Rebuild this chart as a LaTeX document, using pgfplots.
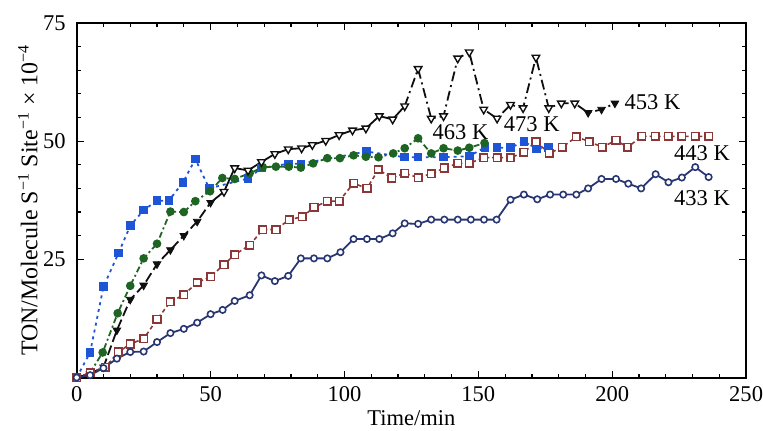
\documentclass[border=0pt]{standalone}
\usepackage{fontspec}
\setmainfont{Liberation Serif}
\usepackage{pgfplots}
\pgfplotsset{compat=1.18}

\definecolor{c473}{RGB}{30,85,215}
\definecolor{c463}{RGB}{30,100,35}
\definecolor{c453}{RGB}{15,15,15}
\definecolor{c443}{RGB}{140,55,55}
\definecolor{c433}{RGB}{40,55,115}

\begin{document}
\begin{tikzpicture}
\begin{axis}[
  at={(0,0)}, anchor=south west,
  scale only axis, width=336pt, height=178pt,
  xmin=0, xmax=250, ymin=0, ymax=75,
  xtick={0,50,...,250}, ytick={25,50,75},
  minor x tick num=4, minor y tick num=4,
  tick align=inside, major tick length=3.5pt, minor tick length=2pt,
  axis line style={line width=1pt},
  every tick/.style={black, line width=0.6pt},
  tick label style={font=\fontsize{11.3}{13}\selectfont},
  /pgf/number format/assume math mode=true,
  yticklabel style={xshift=-2pt},
  xticklabel style={yshift=-1pt, inner xsep=0pt},
  xlabel={Time/min},
  ylabel={TON/Molecule S\textsuperscript{−1} Site\textsuperscript{−1} × 10\textsuperscript{−4}},
  every axis x label/.style={at={(axis description cs:0.5,-0.115)}, anchor=center, inner sep=0pt, font=\fontsize{11.3}{13}\selectfont},
  every axis y label/.style={at={(axis description cs:-0.073,0.5)}, anchor=center, rotate=90, inner sep=1pt, font=\fontsize{12}{14}\selectfont},
  clip=false,
]
% 473 K
\addplot[c473, line width=0.9pt, dash pattern=on 1.5pt off 2pt, mark=square*, mark size=1.7pt, mark options={solid, fill=c473, draw=c473}] coordinates {
(0,0) (5,5.3) (10,19.2) (15.6,26.3) (20,32.1) (25,35.4) (30,37.4) (34.4,37.4) (39.7,41.3) (44.3,46.2) (49.5,40) (64,42.1) (69,44.3) (79,45.2) (83.7,45.2) (108.2,47.8) (122.5,46.6) (127.5,46.6) (137,46.6) (146.6,46.8) (152.5,48.7) (157,48.6) (162,48.6) (167,49.9) (171.8,48.4) (176.3,48.6)
};
% 463 K
\addplot[c463, line width=0.9pt, dash pattern=on 3pt off 1.5pt on 1pt off 1.5pt, mark=*, mark size=1.7pt, mark options={solid, fill=c463, draw=c463}] coordinates {
(0,0) (5,1) (9.7,5.3) (15.3,13.6) (20,19.4) (25,25.2) (30,28.3) (35,35.1) (40,35) (44.3,37.3) (49.8,39.4) (54.4,42.2) (59,42) (64.6,43.2) (69.5,44.5) (74.4,44.6) (79.2,44.6) (83.7,44.4) (88.3,45.3) (93.6,46.4) (98.3,46.4) (103.4,47) (108,46.7) (112.7,46.6) (118.2,47.4) (122.5,48.5) (127.5,50.6) (132.4,47.4) (137,48.5) (142.3,48) (146.6,48.6) (152.3,49.6)
};
% 453 K lines
\addplot[c453, line width=0.9pt, dash pattern=on 5pt off 2pt] coordinates {
(0,0) (5,0.8) (10,2.2) (15,10) (20,16.5) (25,19.5) (30,24) (35,27) (40,30) (45,33) (50,37)
};
\addplot[c453, line width=0.9pt] coordinates {
(50,37) (55,39.3) (59,44.3) (64,43.8) (69,45.6) (74,47.3) (79,48.3) (84,48.5) (88,49.2) (93,50.1) (98,51.3) (103,52.3) (108,52.7) (113,55.3) (118,54.6) (122.5,57.4)
};
\addplot[c453, line width=0.9pt, dash pattern=on 5pt off 2pt on 1pt off 2pt] coordinates {
(122.5,57.4) (127.5,65.3) (132.4,54.8) (137,55.3) (142.3,67.5) (146.6,68.8) (152,56.7) (157,54.8) (162,57.7) (166.7,57) (171.5,67.7) (176.3,57) (181,58) (186,58) (191,56) (196,56.7) (201,58)
};
% 453 K marks
\addplot[only marks, c453, mark=triangle*, mark size=2.2pt, mark options={rotate=180, fill=white, line width=0.7pt}] coordinates {
(55,39.3) (59,44.3) (64,43.8) (69,45.6) (74,47.3) (79,48.3) (84,48.5) (88,49.2) (93,50.1) (98,51.3) (103,52.3) (108,52.7) (113,55.3) (118,54.6) (122.5,57.4) (127.5,65.3) (132.4,54.8) (137,55.3) (142.3,67.5) (146.6,68.8) (152,56.7) (157,54.8) (162,57.7) (166.7,57) (171.5,67.7) (176.3,57) (181,58) (186,58)
};
\addplot[only marks, c453, mark=triangle*, mark size=2.2pt, mark options={rotate=180, fill=c453}] coordinates {
(5,0.8) (10,2.2) (15,10) (20,16.5) (25,19.5) (30,24) (35,27) (40,30) (45,33) (50,37) (191,56) (196,56.7) (201,58)
};
% 443 K
\addplot[c443, line width=0.8pt, dash pattern=on 2pt off 1.5pt, mark=square*, mark size=1.9pt, mark options={solid, fill=white, draw=c443, line width=0.8pt}] coordinates {
(0,0) (5,1) (10.7,2.2) (15.6,5.4) (20,7.1) (25,8.2) (30,12.3) (35,16) (40,17.5) (45,20.1) (50,21.3) (55,23.9) (59,26) (64.6,28) (69.5,31.3) (74.4,31.3) (79.4,33.4) (84.3,34) (88.6,36) (93.6,37.3) (98,37.3) (103.4,41.1) (108.4,40) (112.7,44) (117.6,42.2) (122.5,43.2) (127.5,42.3) (132.4,43.1) (137.3,44.3) (142.3,45.3) (146.6,45.3) (152,46.5) (157,46.5) (162,46.5) (167,47.6) (171.5,49.9) (176.5,47.4) (181.3,48.7) (186.6,50.9) (191.5,49.9) (196.3,48.7) (201.4,50.2) (205.7,48.7) (211,51) (216,51) (221,51) (226,51) (231,51) (236,51)
};
% 433 K
\addplot[c433, line width=0.9pt, mark=*, mark size=1.6pt, mark options={solid, fill=white, draw=c433, line width=0.8pt}] coordinates {
(0,0) (5,0.5) (10,2) (15,4) (20,5.4) (25,5.5) (30,7.5) (35,9.4) (40,10.3) (45,11.6) (50,13.4) (54.5,14.3) (59,16.2) (64.6,17.4) (69,21.6) (74,20.4) (79,21.5) (83.7,25.2) (88.6,25.2) (93.6,25.2) (98.5,26.5) (103.4,29.3) (108.4,29.3) (113,29.3) (118,30.5) (122.5,32.6) (127.5,32.5) (132.4,33.4) (137.3,33.4) (142.3,33.4) (147.2,33.4) (152.1,33.4) (156.8,33.4) (162,37.6) (167,38.7) (172,37.7) (176.8,38.7) (181.7,38.7) (186.6,38.7) (191,40) (196,42) (201.4,42) (206,41) (210.8,40) (216.2,43) (221,41.3) (226,42.3) (231,44.5) (236,42.4)
};
% labels
\node[anchor=west, font=\fontsize{11.3}{13}\selectfont, inner sep=0pt] at (axis cs:204.5,58.2) {453 K};
\node[anchor=west, font=\fontsize{11.3}{13}\selectfont, inner sep=0pt] at (axis cs:223,47.5) {443 K};
\node[anchor=west, font=\fontsize{11.3}{13}\selectfont, inner sep=0pt] at (axis cs:223,38) {433 K};
\node[anchor=west, font=\fontsize{11.3}{13}\selectfont, inner sep=0pt] at (axis cs:132.8,51.9) {463 K};
\node[anchor=west, font=\fontsize{11.3}{13}\selectfont, inner sep=0pt] at (axis cs:159.4,53.6) {473 K};
\end{axis}
\path (-38.5pt,-26.5pt) rectangle (343pt,189.5pt);
\end{tikzpicture}
\end{document}
